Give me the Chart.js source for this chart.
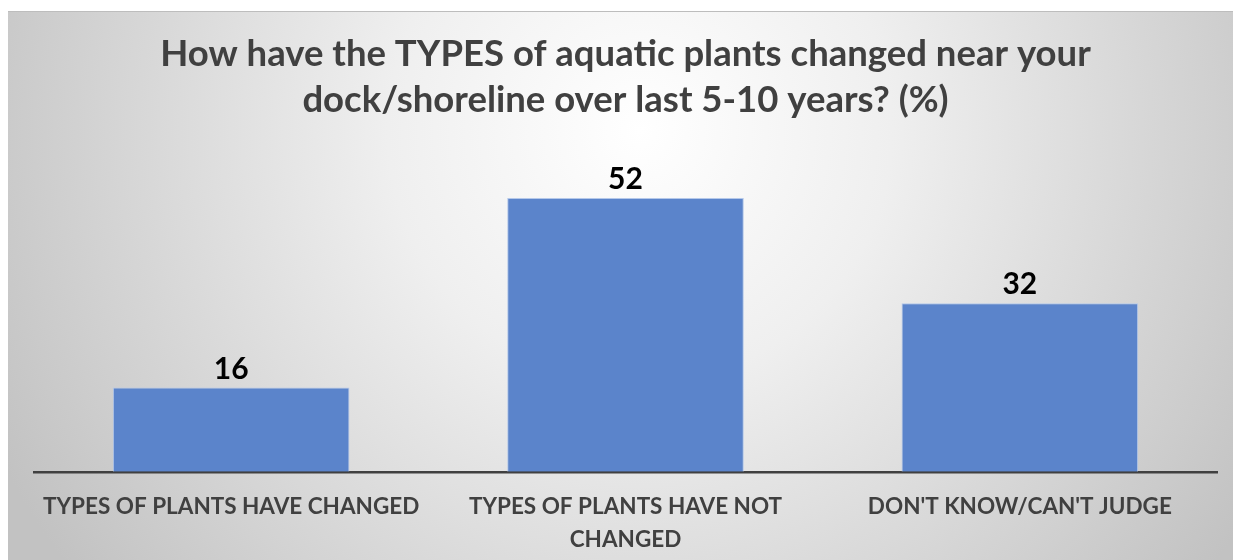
<!DOCTYPE html>
<html>
<head>
<meta charset="utf-8">
<script src="https://cdn.jsdelivr.net/npm/chart.js@4"></script>
<style>
  html, body { margin: 0; padding: 0; background: #fff; }
  #wrap { width: 1233px; height: 560px; }
</style>
</head>
<body>
<div id="wrap"><canvas id="plantsChart" width="1233" height="560"></canvas></div>
<script>
const categories = [
  "TYPES OF PLANTS HAVE CHANGED",
  ["TYPES OF PLANTS HAVE NOT", "CHANGED"],
  "DON'T KNOW/CAN'T JUDGE"
];
const percents = [16, 52, 32];
const titleLines = [
  "How have the TYPES of aquatic plants changed near your",
  "dock/shoreline over last 5-10 years? (%)"
];

// gray radial backdrop like the office chart area
const backdrop = {
  id: "backdrop",
  beforeDraw(chart) {
    const c = chart.ctx;
    const w = chart.width, h = chart.height;
    c.save();
    c.fillStyle = "#ffffff";
    c.fillRect(0, 0, w, h);
    const g = c.createRadialGradient(640, 130, 0, 640, 130, 720);
    g.addColorStop(0, "#ffffff");
    g.addColorStop(0.35, "#efefef");
    g.addColorStop(1, "#c2c2c2");
    c.fillStyle = g;
    c.fillRect(8, 11, w - 8, h - 11);
    c.fillStyle = "#bdbdbd";
    c.fillRect(8, 11, w - 8, 1);
    c.restore();
  }
};

const valueLabels = {
  id: "valueLabels",
  afterDatasetsDraw(chart) {
    const c = chart.ctx;
    const meta = chart.getDatasetMeta(0);
    c.save();
    c.font = "bold 30px Lato";
    c.fillStyle = "#000000";
    c.textAlign = "center";
    c.textBaseline = "alphabetic";
    meta.data.forEach((bar, i) => {
      c.fillText(String(percents[i]), bar.x, bar.y - 9);
    });
    c.restore();
  }
};

document.addEventListener("DOMContentLoaded", function () {
  const ctx = document.getElementById("plantsChart").getContext("2d");

  new Chart(ctx, {
    type: "bar",
    data: {
      labels: categories,
      datasets: [
        {
          data: percents,
          backgroundColor: "#5b84cb",
          borderColor: "#b4c8ea",
          borderWidth: 1,
          categoryPercentage: 0.6,
          barPercentage: 1.0
        }
      ]
    },
    options: {
      responsive: false,
      animation: false,
      layout: {
        padding: { left: 34, right: 16, top: 31, bottom: -15 }
      },
      plugins: {
        legend: { display: false },
        tooltip: { enabled: false },
        title: {
          display: true,
          text: titleLines,
          color: "#404040",
          font: { family: "Lato", size: 36.5, weight: "bold", lineHeight: 1.26 },
          padding: { top: 0, bottom: 33 }
        }
      },
      scales: {
        x: {
          grid: { display: false, drawTicks: false },
          border: { color: "#404040", width: 2.5 },
          ticks: {
            color: "#404040",
            font: { family: "Lato", size: 22.5, weight: "bold", lineHeight: 1.45 },
            maxRotation: 0,
            autoSkip: false,
            padding: 19
          }
        },
        y: {
          display: false,
          min: 0,
          max: 60
        }
      }
    },
    plugins: [backdrop, valueLabels]
  });
});
</script>
</body>
</html>
